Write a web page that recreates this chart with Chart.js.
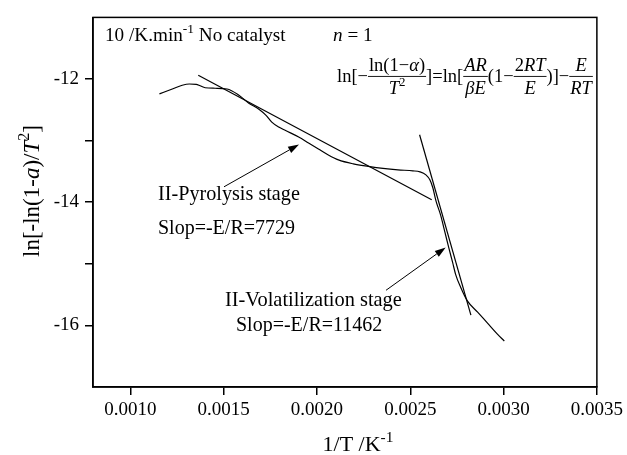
<!DOCTYPE html>
<html>
<head>
<meta charset="utf-8">
<script src="https://cdn.jsdelivr.net/npm/chart.js@4"></script>
<style>
  html, body { margin: 0; padding: 0; background: #fff; }
  #wrap { width: 627px; height: 455px; position: relative; }
</style>
</head>
<body>
<div id="wrap"><canvas id="c"></canvas></div>
<script>
// ---- data ----
const curveX = [0.001156, 0.001225, 0.001278, 0.001316, 0.001353, 0.001374, 0.001401, 0.001454, 0.001518, 0.001582,
  0.001635, 0.001689, 0.001726, 0.001758, 0.001795, 0.001832, 0.001902, 0.001955, 0.002008, 0.002061,
  0.002115, 0.002195, 0.002275, 0.002354, 0.002434, 0.002514, 0.002552, 0.002584, 0.002605, 0.002621,
  0.002639, 0.002662, 0.002685, 0.002706, 0.002727, 0.002743, 0.002770, 0.002807, 0.002861, 0.002914,
  0.002967, 0.003004];
const curveY = [-12.242, -12.162, -12.102, -12.081, -12.086, -12.110, -12.142, -12.150, -12.162, -12.263,
  -12.393, -12.490, -12.586, -12.700, -12.780, -12.837, -12.942, -13.039, -13.136, -13.233,
  -13.313, -13.378, -13.418, -13.451, -13.475, -13.491, -13.507, -13.556, -13.637, -13.766,
  -13.992, -14.202, -14.477, -14.735, -14.977, -15.171, -15.381, -15.607, -15.785, -15.963,
  -16.141, -16.254];
const pyroFitX = [0.001364, 0.002615];
const pyroFitY = [-11.940, -13.960];
const volFitX = [0.002550, 0.002825];
const volFitY = [-12.905, -15.834];
const xTicks = [0.0010, 0.0015, 0.0020, 0.0025, 0.0030, 0.0035];
const yTicks = [-16, -15, -14, -13, -12];
const yLabelTicks = [-16, -14, -12];
// arrows: [fromX, fromY, toX, toY]
const pyroArrow = [0.001502, -13.750, 0.001904, -13.063];
const volArrow = [0.002370, -15.430, 0.002690, -14.735];

const FONT = '"Liberation Serif", "Times New Roman", serif';
const toPts = (xs, ys) => xs.map((x, i) => ({ x: x, y: ys[i] }));

function richWidth(ctx, parts, size) {
  let w = 0;
  for (const p of parts) {
    const s = p.sup ? size * 0.7 : size;
    ctx.font = (p.i ? 'italic ' : '') + s + 'px ' + FONT;
    w += ctx.measureText(p.t).width;
  }
  return w;
}
function rich(ctx, parts, x, y, size, align) {
  const w = richWidth(ctx, parts, size);
  let cx = align === 'center' ? x - w / 2 : x;
  ctx.textAlign = 'left';
  ctx.textBaseline = 'alphabetic';
  for (const p of parts) {
    const s = p.sup ? size * 0.7 : size;
    ctx.font = (p.i ? 'italic ' : '') + s + 'px ' + FONT;
    ctx.fillText(p.t, cx, p.sup ? y - size * 0.42 : y);
    cx += ctx.measureText(p.t).width;
  }
  return w;
}
function frac(ctx, num, den, x, baseY, size) {
  const wn = richWidth(ctx, num, size), wd = richWidth(ctx, den, size);
  const w = Math.max(wn, wd) + 2;
  const barY = baseY - size * 0.3;
  ctx.save();
  ctx.lineWidth = 0.9;
  ctx.beginPath();
  ctx.moveTo(x, barY);
  ctx.lineTo(x + w, barY);
  ctx.stroke();
  ctx.restore();
  rich(ctx, num, x + w / 2, barY - size * 0.28, size, 'center');
  rich(ctx, den, x + w / 2, barY + size * 0.95, size, 'center');
  return w;
}
function arrow(ctx, xs, ys, a) {
  const x1 = xs.getPixelForValue(a[0]), y1 = ys.getPixelForValue(a[1]);
  const x2 = xs.getPixelForValue(a[2]), y2 = ys.getPixelForValue(a[3]);
  const ang = Math.atan2(y2 - y1, x2 - x1);
  const L = 11, W = 3.5;
  ctx.save();
  ctx.strokeStyle = '#000'; ctx.fillStyle = '#000'; ctx.lineWidth = 1;
  ctx.beginPath();
  ctx.moveTo(x1, y1);
  ctx.lineTo(x2 - L * Math.cos(ang), y2 - L * Math.sin(ang));
  ctx.stroke();
  ctx.beginPath();
  ctx.moveTo(x2, y2);
  ctx.lineTo(x2 - L * Math.cos(ang) + W * Math.sin(ang), y2 - L * Math.sin(ang) - W * Math.cos(ang));
  ctx.lineTo(x2 - L * Math.cos(ang) - W * Math.sin(ang), y2 - L * Math.sin(ang) + W * Math.cos(ang));
  ctx.closePath();
  ctx.fill();
  ctx.restore();
}

const decor = {
  id: 'decor',
  afterDraw(chart) {
    const ctx = chart.ctx, a = chart.chartArea;
    const xs = chart.scales.x, ys = chart.scales.y;
    ctx.save();
    ctx.fillStyle = '#000';
    ctx.strokeStyle = '#000';
    // frame
    ctx.lineWidth = 1.5;
    ctx.strokeRect(a.left, a.top, a.right - a.left, a.bottom - a.top);

    // header texts
    rich(ctx, [{ t: '10 /K.min' }, { t: '-1', sup: true }, { t: ' No catalyst' }], 105, 41, 19.2, 'left');
    rich(ctx, [{ t: 'n', i: true }, { t: ' = 1' }], 333, 41, 19.2, 'left');

    // equation
    const F = 18.5, base = 82;
    let x = 337;
    x += rich(ctx, [{ t: 'ln[\u2212' }], x, base, F, 'left');
    x += frac(ctx, [{ t: 'ln(1\u2212' }, { t: '\u03b1', i: true }, { t: ')' }], [{ t: 'T', i: true }, { t: '2', sup: true }], x, base, F);
    x += rich(ctx, [{ t: ']=ln[' }], x, base, F, 'left');
    x += frac(ctx, [{ t: 'AR', i: true }], [{ t: '\u03b2E', i: true }], x, base, F);
    x += rich(ctx, [{ t: '(1\u2212' }], x, base, F, 'left');
    x += frac(ctx, [{ t: '2' }, { t: 'RT', i: true }], [{ t: 'E', i: true }], x, base, F);
    x += rich(ctx, [{ t: ')]\u2212' }], x, base, F, 'left');
    x += frac(ctx, [{ t: 'E', i: true }], [{ t: 'RT', i: true }], x, base, F);

    // annotations
    rich(ctx, [{ t: 'II-Pyrolysis stage' }], 158, 200, 20.2, 'left');
    rich(ctx, [{ t: 'Slop=-E/R=7729' }], 158, 234, 20, 'left');
    rich(ctx, [{ t: 'II-Volatilization stage' }], 225, 306, 20.4, 'left');
    rich(ctx, [{ t: 'Slop=-E/R=11462' }], 236, 331, 20, 'left');
    arrow(ctx, xs, ys, pyroArrow);
    arrow(ctx, xs, ys, volArrow);

    // axis titles
    rich(ctx, [{ t: '1/T /K' }, { t: '-1', sup: true }], 358, 451, 22, 'center');
    ctx.save();
    ctx.translate(39, 191);
    ctx.rotate(-Math.PI / 2);
    rich(ctx, [{ t: 'ln[-ln(1-' }, { t: 'a', i: true }, { t: ')/' }, { t: 'T', i: true }, { t: '2', sup: true }, { t: ']' }], 0, 0, 23, 'center');
    ctx.restore();
    ctx.restore();
  }
};

const lineStyle = { showLine: true, pointRadius: 0, borderColor: '#000', borderWidth: 1.2, fill: false };

new Chart(document.getElementById('c'), {
  type: 'scatter',
  data: {
    datasets: [
      Object.assign({ data: toPts(curveX, curveY), cubicInterpolationMode: 'monotone' }, lineStyle),
      Object.assign({ data: toPts(pyroFitX, pyroFitY) }, lineStyle),
      Object.assign({ data: toPts(volFitX, volFitY) }, lineStyle)
    ]
  },
  options: {
    responsive: true,
    maintainAspectRatio: false,
    animation: false,
    events: [],
    layout: { padding: { left: 0, right: 27, top: 15, bottom: 0 } },
    plugins: { legend: { display: false }, tooltip: { enabled: false } },
    scales: {
      x: {
        type: 'linear', min: 0.0008, max: 0.0035,
        afterBuildTicks: s => { s.ticks = xTicks.map(v => ({ value: v })); },
        afterFit: s => { s.height = 68; },
        grid: { drawOnChartArea: false, drawTicks: true, tickLength: 8, color: '#000', lineWidth: 1.5 },
        border: { display: true, color: '#000', width: 1.5 },
        ticks: { color: '#000', font: { family: FONT, size: 19 }, padding: 4, autoSkip: false, maxRotation: 0,
          callback: v => v.toFixed(4) }
      },
      y: {
        type: 'linear', min: -17, max: -11,
        afterBuildTicks: s => { s.ticks = yTicks.map(v => ({ value: v })); },
        afterFit: s => { s.width = 93; },
        grid: { drawOnChartArea: false, drawTicks: true, tickLength: 8, color: '#000', lineWidth: 1.5 },
        border: { display: true, color: '#000', width: 1.5 },
        ticks: { color: '#000', font: { family: FONT, size: 19 }, padding: 6, autoSkip: false,
          callback: v => yLabelTicks.includes(v) ? String(v) : '' }
      }
    }
  },
  plugins: [decor]
});
</script>
</body>
</html>
